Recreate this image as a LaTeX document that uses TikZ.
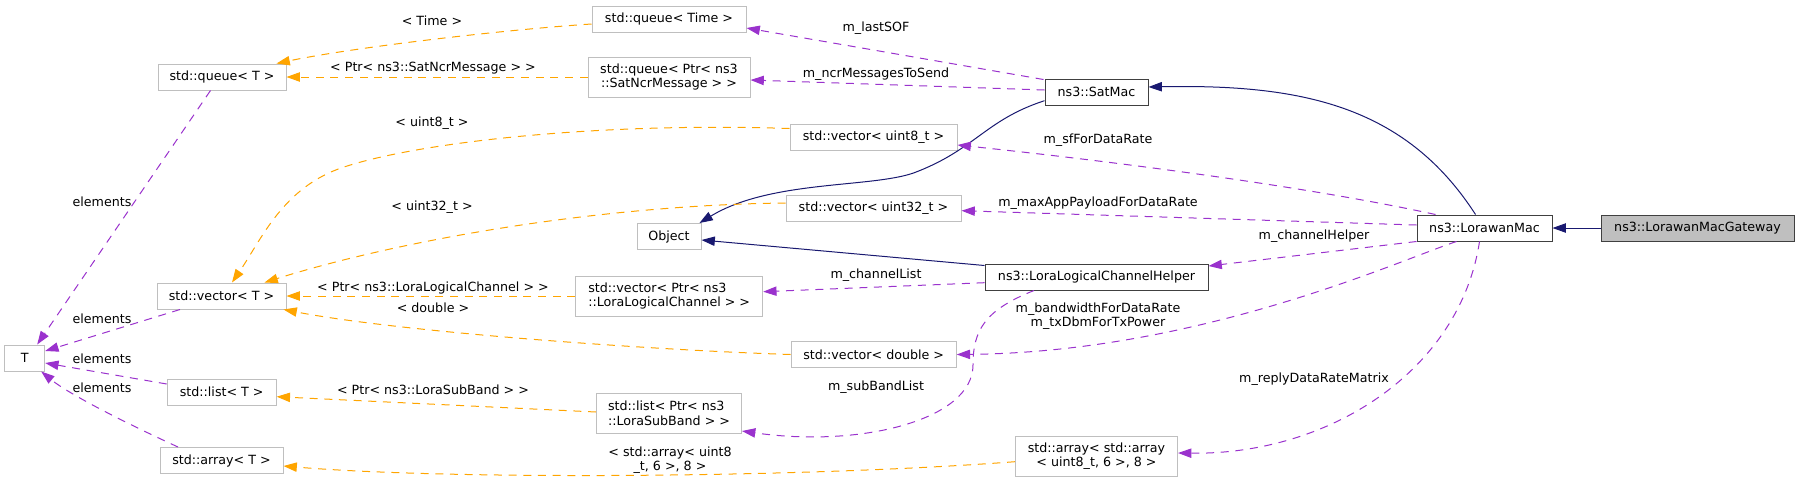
\documentclass[tikz,border=0pt]{standalone}
\usepackage{fontspec}
\setmainfont{DejaVu Sans}
\usetikzlibrary{arrows.meta,calc}
\definecolor{eorange}{HTML}{FFA500}
\definecolor{epurple}{HTML}{9A32CD}
\definecolor{enavy}{HTML}{191970}
\definecolor{ugrey}{HTML}{BFBFBF}
\definecolor{dgrey}{HTML}{404040}
\begin{document}
\begin{tikzpicture}[x=0.75pt,y=-0.75pt,
  every node/.style={font=\fontsize{9.5}{10.9}\selectfont, inner sep=0pt, text=black},
  sz/.style 2 args={minimum width=#1*0.75pt, minimum height=#2*0.75pt},
  ubox/.style={draw=ugrey, fill=white, line width=0.75pt, rectangle},
  dbox/.style={draw=dgrey, fill=white, line width=0.75pt, rectangle},
  cbox/.style={draw=dgrey, fill=ugrey, line width=0.75pt, rectangle},
  etip/.style={-{Triangle[length=10pt,width=7pt]}},
  inh/.style={etip, draw=enavy, line width=0.75pt},
  usg/.style={etip, draw=epurple, line width=0.75pt, dash pattern=on 6pt off 5pt},
  tpl/.style={etip, draw=eorange, line width=0.75pt, dash pattern=on 6pt off 5pt},
  lbl/.style={align=center}
]
\useasboundingbox (0,0) rectangle (1800,483);

% nodes
\node[ubox, sz={154}{26}] (qtime) at (669,19) {std::queue< Time >};
\node[ubox, sz={162}{40}, align=center] (qncr) at (669,77) {std::queue< Ptr< ns3\\::SatNcrMessage > >};
\node[dbox, sz={103}{26}] (satmac) at (1096.5,92) {ns3::SatMac};
\node[ubox, sz={167}{26}] (vu8) at (873.5,137.5) {std::vector< uint8\_t >};
\node[ubox, sz={175}{26}] (vu32) at (873.5,208) {std::vector< uint32\_t >};
\node[ubox, sz={64}{26}] (obj) at (669,236.5) {Object};
\node[ubox, sz={128}{26}] (qT) at (222,77) {std::queue< T >};
\node[ubox, sz={129}{26}] (vT) at (221.5,296) {std::vector< T >};
\node[ubox, sz={40}{26}] (T) at (24.7,358) {T};
\node[ubox, sz={109}{26}] (lT) at (221.7,392) {std::list< T >};
\node[ubox, sz={123}{26}] (aT) at (221.5,460.5) {std::array< T >};
\node[ubox, sz={187}{40}, align=left] (vchan) at (669.2,296) {std::vector< Ptr< ns3\\::LoraLogicalChannel > >};
\node[dbox, sz={223}{26}] (helper) at (1096.5,277) {ns3::LoraLogicalChannelHelper};
\node[ubox, sz={165}{26}] (vdbl) at (873.7,354.5) {std::vector< double >};
\node[ubox, sz={145}{40}, align=left] (lsub) at (669,413.5) {std::list< Ptr< ns3\\::LoraSubBand > >};
\node[ubox, sz={162}{40}, align=center] (aarr) at (1096.5,456) {std::array< std::array\\< uint8\_t, 6 >, 8 >};
\node[dbox, sz={135}{26}] (lmac) at (1484.5,228) {ns3::LorawanMac};
\node[cbox, sz={193}{26}] (gw) at (1697.5,228) {ns3::LorawanMacGateway};

% inheritance
\draw[inh] (gw.west) -- (lmac.east);
\draw[inh] ($(lmac.north)+(-9,0)$) .. controls (1405,105) and (1300,84) .. ($(satmac.east)+(0,-5)$);
\draw[inh] ($(satmac.west)+(0,8.7)$) .. controls (985,120) and (975,150) .. (913.5,173) .. controls (870,188) and (770,180) .. ($(obj.north east)+(-2,0)$);
\draw[inh] ($(helper.north west)+(0,2)$) -- ($(obj.east)+(0,3.5)$);

% usage
\draw[usg] ($(satmac.north west)+(-1,1)$) -- ($(qtime.east)+(0,9)$);
\draw[usg] ($(satmac.west)+(0,-2)$) -- ($(qncr.east)+(0,3)$);
\draw[usg] ($(lmac.north west)+(19,0)$) .. controls (1300,185) and (1100,160) .. ($(vu8.east)+(0,7.5)$);
\draw[usg] ($(lmac.west)+(0,-3)$) -- ($(vu32.east)+(0,2.7)$);
\draw[usg] (lmac.south west) -- ($(helper.east)+(0,-11)$);
\draw[usg] ($(lmac.south)+(-28,0)$) .. controls (1400,260) and (1200,352) .. (vdbl.east);
\draw[usg] ($(lmac.south)+(-5,0)$) .. controls (1460,370) and (1330,455) .. ($(aarr.east)+(0,-3)$);
\draw[usg] ($(helper.west)+(0,5.7)$) -- ($(vchan.east)+(0,-4.3)$);
\draw[usg] ($(helper.south)+(-62.5,0)$) .. controls (985,310) and (973,330) .. (973,365) .. controls (973,420) and (860,448) .. ($(lsub.east)+(0,17.5)$);

% template instances
\draw[tpl] ($(vu8.west)+(0,-9)$) .. controls (600,122) and (420,142) .. (344,167) .. controls (283,187) and (262,238.6) .. ($(vT.north)+(10.5,0)$);
\draw[tpl] ($(vu32.west)+(0,-5)$) .. controls (600,205) and (400,240) .. ($(vT.north east)+(-22,0)$);
\draw[tpl] (vchan.west) -- (vT.east);
\draw[tpl] (vdbl.west) .. controls (650,350) and (400,332) .. ($(vT.south east)+(-3,0)$);
\draw[tpl] ($(qtime.west)+(0,5)$) .. controls (500,30) and (350,48) .. ($(qT.north east)+(-10,0)$);
\draw[tpl] (qncr.west) -- (qT.east);
\draw[tpl] ($(lsub.west)+(0,-1.5)$) -- ($(lT.east)+(0,4.7)$);
\draw[tpl] ($(aarr.west)+(0,5.7)$) .. controls (800,478) and (450,480) .. ($(aT.east)+(0,5.5)$);

% elements
\draw[usg] ($(qT.south)+(-11.5,0)$) -- ($(T.north east)+(-8,0)$);
\draw[usg] ($(vT.south)+(-41.5,0)$) -- ($(T.east)+(0,-7)$);
\draw[usg] ($(lT.west)+(0,-8)$) -- ($(T.east)+(0,5)$);
\draw[usg] ($(aT.north)+(-43.5,0)$) .. controls (130,425) and (70,395) .. ($(T.south east)+(-4,0)$);

% labels
\node[lbl] (t1) at (432,21) {< Time >};
\node[lbl] (t2) at (433,68) {< Ptr< ns3::SatNcrMessage > >};
\node[lbl] (t3) at (432,123) {< uint8\_t >};
\node[lbl] (t4) at (432,207) {< uint32\_t >};
\node[lbl] (t5) at (433,288) {< Ptr< ns3::LoraLogicalChannel > >};
\node[lbl] (t6) at (433,308) {< double >};
\node[lbl] (t7) at (433,390) {< Ptr< ns3::LoraSubBand > >};
\node[lbl] (t8) at (670,460) {< std::array< uint8\\\_t, 6 >, 8 >};
\node[lbl] (e1) at (102,202) {elements};
\node[lbl] (e2) at (102,319) {elements};
\node[lbl] (e3) at (102,359) {elements};
\node[lbl] (e4) at (102,388) {elements};
\node[lbl] (m1) at (876,28) {m\_lastSOF};
\node[lbl] (m2) at (876,74) {m\_ncrMessagesToSend};
\node[lbl] (m3) at (1098,140) {m\_sfForDataRate};
\node[lbl] (m4) at (1098,203) {m\_maxAppPayloadForDataRate};
\node[lbl] (m5) at (1314,236) {m\_channelHelper};
\node[lbl] (m6) at (876,275) {m\_channelList};
\node[lbl] (m7) at (1098,316) {m\_bandwidthForDataRate\\m\_txDbmForTxPower};
\node[lbl] (m8) at (876,387) {m\_subBandList};
\node[lbl] (m9) at (1314,379) {m\_replyDataRateMatrix};
\end{tikzpicture}
\end{document}
